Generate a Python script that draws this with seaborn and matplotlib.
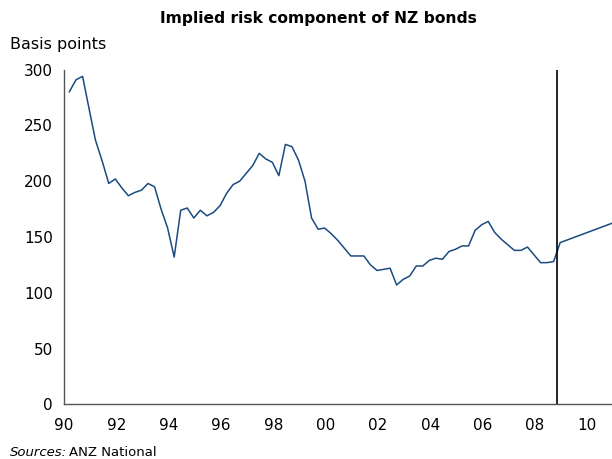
import matplotlib
matplotlib.use("Agg")
import matplotlib.pyplot as plt
import seaborn as sns
import pandas as pd

years = [1990.20, 1990.46, 1990.71, 1990.95, 1991.20, 1991.46, 1991.71, 1991.96,
         1992.21, 1992.46, 1992.71, 1992.96, 1993.21, 1993.46, 1993.71, 1993.96,
         1994.21, 1994.46, 1994.71, 1994.96, 1995.21, 1995.46, 1995.71, 1995.96,
         1996.21, 1996.46, 1996.71, 1996.96, 1997.21, 1997.46, 1997.71, 1997.96,
         1998.21, 1998.46, 1998.71, 1998.96, 1999.21, 1999.46, 1999.71, 1999.96,
         2000.21, 2000.46, 2000.71, 2000.96, 2001.21, 2001.46, 2001.71, 2001.96,
         2002.21, 2002.46, 2002.71, 2002.96, 2003.21, 2003.46, 2003.71, 2003.96,
         2004.21, 2004.46, 2004.71, 2004.96, 2005.21, 2005.46, 2005.71, 2005.96,
         2006.21, 2006.46, 2006.71, 2006.96, 2007.21, 2007.46, 2007.71, 2007.96,
         2008.21, 2008.46, 2008.71, 2008.96, 2010.96]
risk_bp = [280, 291, 294, 266, 237, 218, 198, 202,
           194, 187, 190, 192, 198, 195, 175, 158,
           132, 174, 176, 167, 174, 169, 172, 178,
           189, 197, 200, 207, 214, 225, 220, 217,
           205, 233, 231, 219, 200, 167, 157, 158,
           153, 147, 140, 133, 133, 133, 125, 120,
           121, 122, 107, 112, 115, 124, 124, 129,
           131, 130, 137, 139, 142, 142, 156, 161,
           164, 154, 148, 143, 138, 138, 141, 134,
           127, 127, 128, 145, 162.5]
tick_years = [1990, 1992, 1994, 1996, 1998, 2000, 2002, 2004, 2006, 2008, 2010]
tick_labels = ["90", "92", "94", "96", "98", "00", "02", "04", "06", "08", "10"]
y_ticks = [0, 50, 100, 150, 200, 250, 300]
marker_year = 2008.83

df = pd.DataFrame({"year": years, "bp": risk_bp})

sns.set_style("white")
plt.rcParams['font.family'] = ['DejaVu Sans']
plt.rcParams['text.color'] = 'black'

fig = plt.figure(figsize=(6.12, 4.59), dpi=100)
ax = fig.add_axes([64/612, 1 - 404.3/459, 1 - 64/612, (404.3 - 69.7)/459])

sns.lineplot(data=df, x="year", y="bp", ax=ax, color="#1b4b80", linewidth=1.1)
ax.axvline(marker_year, color="black", linewidth=1.2)

ax.set_xlim(1990, 2010.94)
ax.set_ylim(0, 300)
ax.set_xticks(tick_years)
ax.set_xticklabels(tick_labels)
ax.set_yticks(y_ticks)
ax.set_xlabel("")
ax.set_ylabel("")
for s in ["top", "right"]:
    ax.spines[s].set_visible(False)
for s in ["left", "bottom"]:
    ax.spines[s].set_color("#555555")
    ax.spines[s].set_linewidth(1.0)
ax.tick_params(axis="both", which="major", direction="out", length=4, width=1,
               color="#333333", labelsize=11, labelcolor="black", pad=4)
ax.tick_params(axis="x", pad=6)

fig.text(318/612, 1 - 18/459, "Implied risk component of NZ bonds", ha="center", va="center",
         fontsize=11.2, fontweight="bold", color="black")
fig.text(10/612, 1 - 45/459, "Basis points", ha="left", va="center", fontsize=11.5, color="black")
fig.text(10/612, 1 - 452/459, "Sources:", ha="left", va="center", fontsize=9.5, style="italic",
         color="black")
fig.text(69/612, 1 - 452/459, "ANZ National", ha="left", va="center", fontsize=9.5, color="black")

fig.savefig("out.png", dpi=100)
